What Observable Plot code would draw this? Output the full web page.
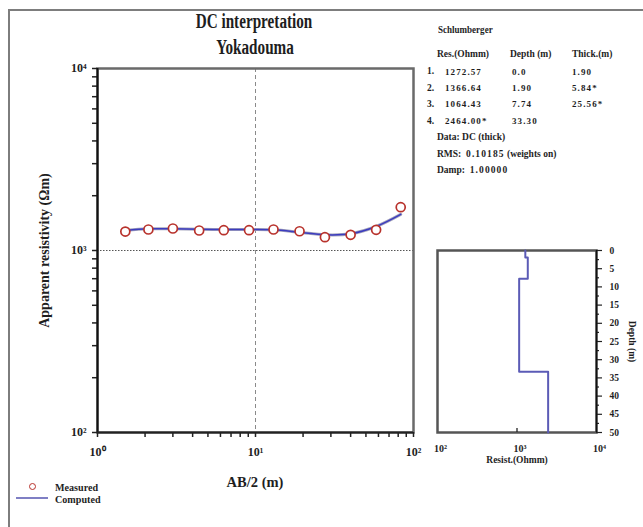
<!DOCTYPE html>
<html>
<head>
<meta charset="utf-8">
<script src="https://cdn.jsdelivr.net/npm/d3@7"></script>
<script src="https://cdn.jsdelivr.net/npm/@observablehq/plot@0.6"></script>
<style>
  body { margin: 0; background: #fff; }
  #chart { position: relative; width: 643px; height: 527px; overflow: hidden;
           font-family: "Liberation Serif", "DejaVu Serif", serif; background: #fff; }
  #chart > svg { position: absolute; left: 0; top: 0; }
  .t { position: absolute; white-space: nowrap; color: #1e1e1e; font-weight: bold; line-height: 1; }
  .num { letter-spacing: 1.1px; }
  #sheet { position: absolute; left: 8px; top: 9px; width: 700px; height: 600px;
           border-left: 2px solid #7d7d7d; border-top: 2px solid #7d7d7d; }
</style>
</head>
<body>
<div id="chart"><div id="sheet"></div></div>
<script>
// Sounding curve: half electrode spacing AB/2 (m) and apparent resistivity (ohm·m)
const abHalf      = [1.5, 2.1, 3.0, 4.4, 6.3, 9.1, 13, 19, 27.5, 40, 58, 83];
const rhoMeasured = [1271, 1304, 1321, 1288, 1293, 1293, 1304, 1276, 1183, 1220, 1299, 1729];
const rhoComputed = [1288, 1315, 1315, 1310, 1304, 1304, 1299, 1260, 1220, 1236, 1355, 1579];

// Layered model (Schlumberger inversion)
const layerRes      = [1272.57, 1366.64, 1064.43, 2464.00];
const layerResText  = ["1272.57", "1366.64", "1064.43", "2464.00*"];
const layerTop      = [0.0, 1.90, 7.74, 33.30];
const layerTopText  = ["0.0", "1.90", "7.74", "33.30"];
const layerThkText  = ["1.90", "5.84*", "25.56*", ""];
const maxDepth = 50;

// Axis ticks
const xMajor = [1, 10, 100];
const xMinor = [2, 3, 4, 5, 6, 7, 8, 9, 20, 30, 40, 50, 60, 70, 80, 90];
const yMajor = [100, 1000, 10000];
const yMinor = [200, 300, 400, 500, 600, 700, 800, 900, 2000, 3000, 4000, 5000, 6000, 7000, 8000, 9000];
const resTicks = [100, 1000, 10000];
const depthMajor = [0, 5, 10, 15, 20, 25, 30, 35, 40, 45, 50];
const depthMinor = [2.5, 7.5, 12.5, 17.5, 22.5, 27.5, 32.5, 37.5, 42.5, 47.5];

const supDigits = ["⁰", "¹", "²", "³", "⁴"];
const pow10 = d => "10" + supDigits[Math.round(Math.log10(d))];

const W = 643, H = 527;
const chart = document.getElementById("chart");
const baseStyle = { fontFamily: "Liberation Serif, serif", fontSize: "12px", fontWeight: "bold",
                    background: "transparent", color: "#1e1e1e", overflow: "visible" };

const sounding = abHalf.map((x, i) => ({ x, measured: rhoMeasured[i], computed: rhoComputed[i] }));
const xTicks = [...xMajor, ...xMinor];
const yTicks = [...yMajor, ...yMinor];

// Apparent resistivity vs AB/2
const main = Plot.plot({
  width: W, height: H,
  marginLeft: 97, marginRight: W - 413, marginTop: 68, marginBottom: H - 432,
  style: baseStyle,
  x: { type: "log", domain: [1, 100] },
  y: { type: "log", domain: [100, 10000] },
  marks: [
    Plot.ruleX([10], { stroke: "#8a8a8a", strokeDasharray: "4,3" }),
    Plot.ruleY([1000], { stroke: "#555", strokeDasharray: "1.5,1.5" }),
    Plot.frame({ stroke: "#6a6a6a", strokeWidth: 2.5 }),
    // outward tick marks along the bottom and left edges
    Plot.ruleX(xTicks, { x: d => d, y1: 100, y2: 100, insetBottom: -5, stroke: "#222", strokeWidth: 1.5 }),
    Plot.ruleY(yTicks, { y: d => d, x1: 1, x2: 1, insetLeft: -5, stroke: "#222", strokeWidth: 1.5 }),
    Plot.axisX(xMajor, { tickSize: 0, tickPadding: 15, tickFormat: pow10, label: null }),
    Plot.axisY(yMajor, { tickSize: 0, tickPadding: 11, tickFormat: pow10, label: null }),
    Plot.ruleX([1], { stroke: "#111", strokeWidth: 2 }),
    Plot.ruleY([100], { stroke: "#222", strokeWidth: 2 }),
    Plot.text(["Apparent resistivity (Ωm)"], { frameAnchor: "left", textAnchor: "middle", dx: -53, rotate: -90,
      fontSize: 14, fontWeight: "bold", fill: "#1e1e1e" }),
    Plot.line(sounding, { x: "x", y: "computed", curve: "catmull-rom", stroke: "#a4a4bc", strokeWidth: 3 }),
    Plot.line(sounding, { x: "x", y: "computed", curve: "catmull-rom", stroke: "#3c3cbf", strokeWidth: 1.5 }),
    Plot.dot(sounding, { x: "x", y: "measured", r: 4.5, stroke: "#b8322c", strokeWidth: 1.7, fill: "white" })
  ]
});
chart.appendChild(main);

// Layered model as a step profile
const steps = [];
layerRes.forEach((res, i) => {
  const bottom = i < layerRes.length - 1 ? layerTop[i + 1] : maxDepth;
  steps.push({ res, depth: layerTop[i] }, { res, depth: bottom });
});

const model = Plot.plot({
  width: W, height: H,
  marginLeft: 437, marginRight: W - 596, marginTop: 250, marginBottom: H - 432,
  style: baseStyle,
  x: { type: "log", domain: [100, 10000] },
  y: { domain: [0, maxDepth], reverse: true },
  marks: [
    Plot.frame({ stroke: "#555", strokeWidth: 2.5 }),
    Plot.ruleX([1000], { x: d => d, y1: maxDepth, y2: maxDepth, insetTop: -4, stroke: "#222", strokeWidth: 1.3 }),
    Plot.axisX(resTicks, { tickSize: 0, tickPadding: 12, tickFormat: pow10, label: null, fontSize: 10, dx: 3 }),
    Plot.ruleY(depthMinor, { y: d => d, x1: 10000, x2: 10000, insetRight: -3, stroke: "#222", strokeWidth: 1.2 }),
    Plot.ruleY(depthMajor, { y: d => d, x1: 10000, x2: 10000, insetRight: -6, stroke: "#222", strokeWidth: 1.2 }),
    Plot.axisY(depthMajor, { anchor: "right", tickSize: 0, tickPadding: 13, label: null, fontSize: 9.5 }),
    Plot.ruleX([10000], { stroke: "#111", strokeWidth: 1.5 }),
    Plot.line(steps, { x: "res", y: "depth", stroke: "#5b5bb6", strokeWidth: 2 }),
    Plot.text(["Resist.(Ohmm)"], { frameAnchor: "bottom", dy: 30, fontSize: 9.5, fontWeight: "bold", fill: "#1e1e1e" }),
    Plot.text(["Depth (m)"], { frameAnchor: "right", textAnchor: "middle", dx: 36, rotate: 90,
      fontSize: 9.5, fontWeight: "bold", fill: "#1e1e1e" })
  ]
});
chart.appendChild(model);

// Text blocks: title, axis title, parameter table and legend
function label(text, x, y, size, opts = {}) {
  const el = document.createElement("div");
  el.className = "t" + (opts.num ? " num" : "");
  el.textContent = text;
  el.style.fontSize = size + "px";
  el.style.left = x + "px";
  el.style.top = (y - size / 2) + "px";
  const sx = opts.scaleX || 1;
  el.style.transformOrigin = opts.center ? "50% 50%" : "0 50%";
  el.style.transform = (opts.center ? "translateX(-50%) " : "") + `scaleX(${sx})`;
  chart.appendChild(el);
  return el;
}

label("DC interpretation", 254, 21, 20, { center: true, scaleX: 0.76 });
label("Yokadouma", 255, 47, 20, { center: true, scaleX: 0.76 });
label("AB/2 (m)", 255, 482, 14.5, { center: true });

label("Schlumberger", 438, 31, 9.5, { scaleX: 0.95 });
label("Res.(Ohmm)", 437, 55, 9.5);
label("Depth (m)", 510, 55, 9.5);
label("Thick.(m)", 572, 55, 9.5);
const rowY = [72, 88.5, 104.5, 121.5];
layerResText.forEach((r, i) => {
  label((i + 1) + ".", 427, rowY[i], 9.5);
  label(r, 445, rowY[i], 9, { num: true });
  label(layerTopText[i], 512, rowY[i], 9, { num: true });
  if (layerThkText[i]) label(layerThkText[i], 572, rowY[i], 9, { num: true });
});
label("Data: DC (thick)", 437, 138, 9.5);
const rms = label("RMS:", 437, 154.5, 9.5);
rms.innerHTML = 'RMS:&nbsp; <span class="num">0.10185</span> (weights on)';
const damp = label("Damp:", 437, 170.5, 9.5);
damp.innerHTML = 'Damp:&nbsp; <span class="num">1.00000</span>';

// Legend
const dot = document.createElement("div");
Object.assign(dot.style, { position: "absolute", left: "28.5px", top: "483px", width: "5px", height: "5px",
  border: "1.6px solid #b8322c", borderRadius: "50%", background: "#fff" });
chart.appendChild(dot);
const swatch = document.createElement("div");
Object.assign(swatch.style, { position: "absolute", left: "16px", top: "497px", width: "32px", height: "2px",
  background: "#7f7fc4" });
chart.appendChild(swatch);
label("Measured", 55, 487, 11, { scaleX: 0.92 });
label("Computed", 55, 499.5, 11, { scaleX: 0.92 });
</script>
</body>
</html>
